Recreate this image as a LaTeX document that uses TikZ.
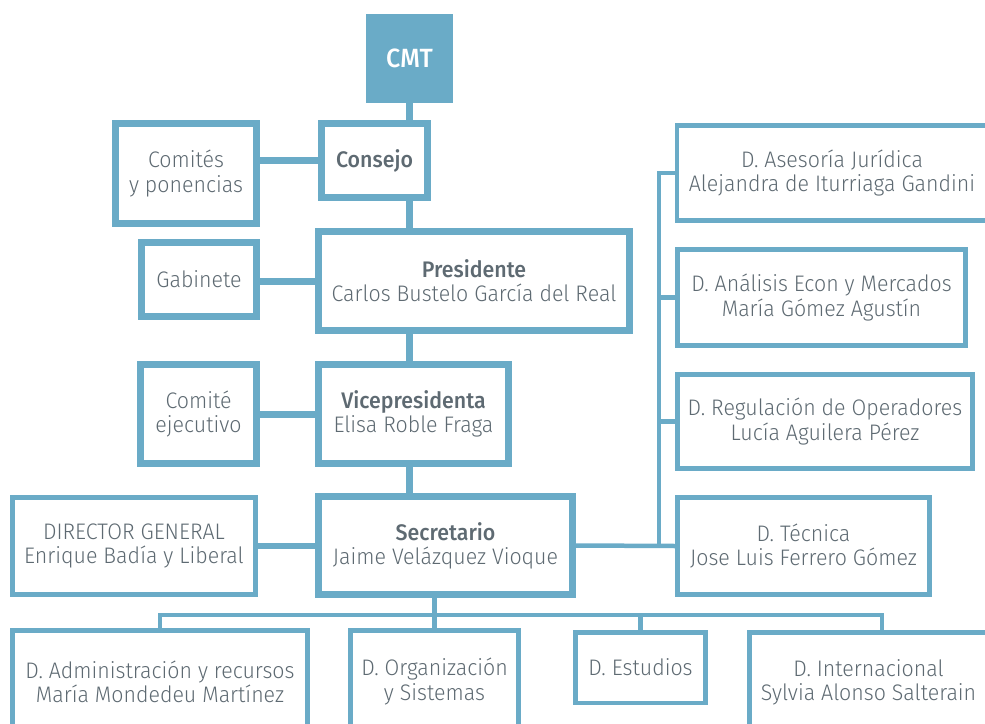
\documentclass[tikz,border=0pt]{standalone}
\usepackage{fontspec}
\setmainfont{Fira Sans Light}[BoldFont={Fira Sans Medium},FakeStretch=0.95]
\usepackage{tikz}
\usetikzlibrary{positioning,calc}
\definecolor{cmtblue}{RGB}{106,171,199}
\definecolor{cmtgray}{RGB}{94,106,114}
\tikzset{
  mainbox/.style={draw=cmtblue, line width=0.14cm, fill=white, align=center, inner sep=0pt, text=cmtgray, font=\fontsize{12.8}{13.8}\selectfont},
  subbox/.style={mainbox, line width=0.09cm},
  topbox/.style={fill=cmtblue, draw=none, outer sep=0pt, text=white, font=\bfseries\fontsize{15}{17}\selectfont},
  thickln/.style={draw=cmtblue, line width=0.14cm},
  thinln/.style={draw=cmtblue, line width=0.09cm},
}
\begin{document}
\begin{tikzpicture}[x=0.02cm, y=-0.02cm]
    \useasboundingbox (0,0) rectangle (985,724);
    \clip (0,0) rectangle (985,724);
    % central column
    \node[topbox, minimum width=1.74cm, minimum height=1.78cm] (cmt) at (409.5,58.5) {CMT};
    \node[mainbox, minimum width=2.12cm, minimum height=1.48cm] (consejo) at (374.5,160.5) {\textbf{Consejo}};
    \node[mainbox, minimum width=6.22cm, minimum height=1.98cm] (pres) at (474,281) {\textbf{Presidente}\\Carlos Bustelo García del Real};
    \node[mainbox, minimum width=3.80cm, minimum height=1.98cm] (vice) at (413.5,414) {\textbf{Vicepresidenta}\\Elisa Roble Fraga};
    \node[mainbox, minimum width=5.08cm, minimum height=1.96cm] (sec) at (445.5,545.5) {\textbf{Secretario}\\Jaime Velázquez Vioque};
    % left side
    \node[mainbox, minimum width=2.82cm, minimum height=2.00cm] (comites) at (186,173.5) {Comités\\y ponencias};
    \node[mainbox, minimum width=2.30cm, minimum height=1.48cm] (gab) at (199,279.5) {Gabinete};
    \node[mainbox, minimum width=2.32cm, minimum height=1.98cm] (comej) at (198.5,414) {Comité\\ejecutivo};
    \node[subbox, minimum width=4.87cm, minimum height=1.95cm] (dg) at (134,546) {DIRECTOR GENERAL\\Enrique Badía y Liberal};
    % right side
    \node[subbox, minimum width=6.21cm, minimum height=1.91cm] (ases) at (832,173) {D. Asesoría Jurídica\\Alejandra de Iturriaga Gandini};
    \node[subbox, minimum width=5.77cm, minimum height=1.93cm] (anal) at (821.5,297.5) {D. Análisis Econ y Mercados\\María Gómez Agustín};
    \node[subbox, minimum width=5.91cm, minimum height=1.89cm] (regu) at (825,421.5) {D. Regulación de Operadores\\Lucía Aguilera Pérez};
    \node[subbox, minimum width=5.05cm, minimum height=1.95cm] (tec) at (803.5,546) {D. Técnica\\Jose Luis Ferrero Gómez};
    % bottom row
    \node[subbox, minimum width=5.91cm, minimum height=2.05cm] (adm) at (160,681.5) {D. Administración y recursos\\María Mondedeu Martínez};
    \node[subbox, minimum width=3.37cm, minimum height=2.05cm] (org) at (434.5,681.5) {D. Organización\\y Sistemas};
    \node[subbox, minimum width=2.61cm, minimum height=1.41cm] (est) at (640.5,667.5) {D. Estudios};
    \node[subbox, minimum width=4.77cm, minimum height=2.01cm] (int) at (868.5,682.5) {D. Internacional\\Sylvia Alonso Salterain};
    \coordinate (trunk) at (659,0);
    \coordinate (bus) at (0,615);
    \coordinate (intin) at ([xshift=0.27cm]int.north);
    % connectors
    \foreach \a/\b in {cmt/consejo,consejo/pres,pres/vice,vice/sec}{\draw[thickln] (\a.south -| cmt.south) -- (\b.north -| cmt.south);}
    \foreach \a/\b in {comites/consejo,gab/pres,comej/vice}{\draw[thickln] (\b.west) -- (\b.west -| \a.east);}
    \draw[thickln, line width=0.12cm] (sec.west) -- (sec.west -| dg.east);
    \draw[thinln] (sec.east) -- (tec.west);
    \draw[thinln] (ases.west) -- (ases.west -| trunk) -- (trunk |- tec.west);
    \foreach \n in {anal,regu}{\draw[thinln] (\n.west) -- (\n.west -| trunk);}
    \draw[thinln] (sec.south -| org.north) -- (org.north);
    \draw[thinln] (adm.north) |- (bus -| intin) -- (intin);
    \draw[thinln] (bus -| est.north) -- (est.north);
\end{tikzpicture}
\end{document}
